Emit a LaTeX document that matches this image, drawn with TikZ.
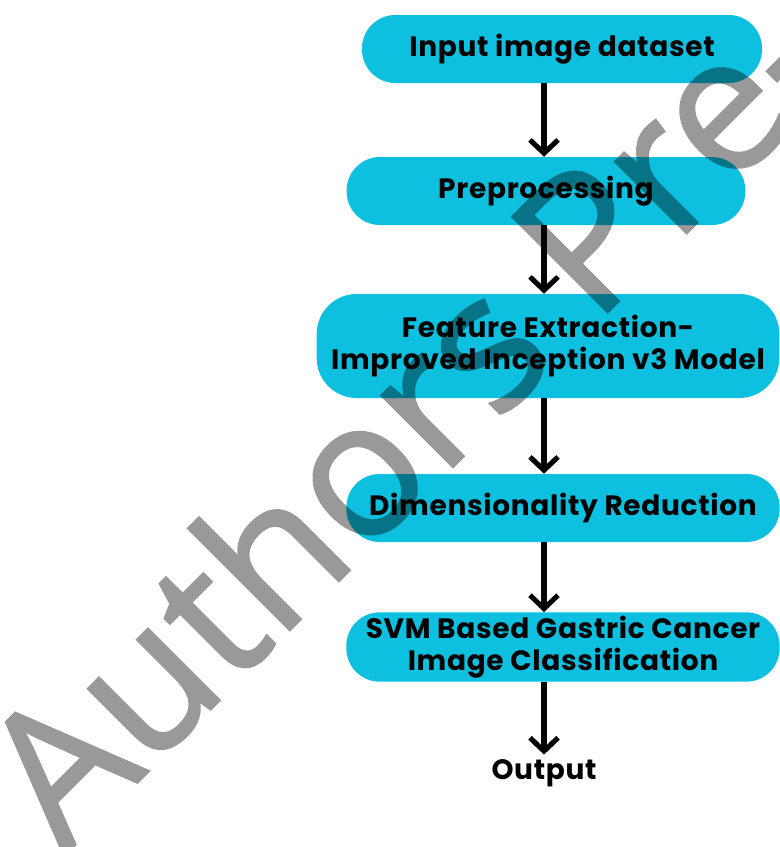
\documentclass[tikz,border=0pt]{standalone}
\usepackage{fontspec}
\setmainfont{Open Sans}
\newfontfamily\boxfont[LetterSpace=2.5]{Poppins}
\newfontfamily\markfont[FakeBold=1.2]{Open Sans}
\usetikzlibrary{arrows.meta}
\definecolor{boxcyan}{RGB}{13,192,224}
\tikzset{
  stepbox/.style={fill=boxcyan, rounded corners=25pt, minimum height=51pt,
    align=center, inner sep=0pt, font=\boxfont\fontsize{21}{24}\selectfont\bfseries},
  flow/.style={-{Straight Barb[length=10pt,width=21pt]}, line width=3.8pt},
}
\begin{document}
\begin{tikzpicture}[x=0.75pt,y=-0.75pt]
		\useasboundingbox (0,0) rectangle (780,847);
		\node[stepbox, minimum width=300pt] (input) at (562,49) {Input image dataset};
		\node[stepbox, minimum width=299pt] (prep) at (546,191) {Preprocessing};
		\node[stepbox, minimum width=347pt, minimum height=78pt, rounded corners=30pt] (feat) at (548,346) {Feature Extraction-\\Improved Inception v3 Model};
		\node[stepbox, minimum width=325pt] (dim) at (563,508) {Dimensionality Reduction};
		\node[stepbox, minimum width=325pt, minimum height=52pt] (svm) at (563,647) {SVM Based Gastric Cancer\\Image Classification};
		\node[font=\boxfont\fontsize{21}{24}\selectfont\bfseries] (out) at (544,773) {Output};
		\draw[flow] (input.south -| out) to (prep.north -| out);
		\draw[flow] (prep.south -| out) to (feat.north -| out);
		\draw[flow] (feat.south -| out) to (dim.north -| out);
		\draw[flow] (dim.south -| out) to (svm.north -| out);
		\draw[flow] (svm.south -| out) to (out);
		% watermark
		\begin{scope}
			\clip (0,0) rectangle (780,847);
			\begin{scope}[transparency group, opacity=0.4]
				\node[rotate=45, anchor=base west, inner sep=0pt, text=black,
					font=\markfont\fontsize{142}{144}\selectfont] (mark) at (64,856) {Authors Pre-proof};
			\end{scope}
		\end{scope}
\end{tikzpicture}
\end{document}
